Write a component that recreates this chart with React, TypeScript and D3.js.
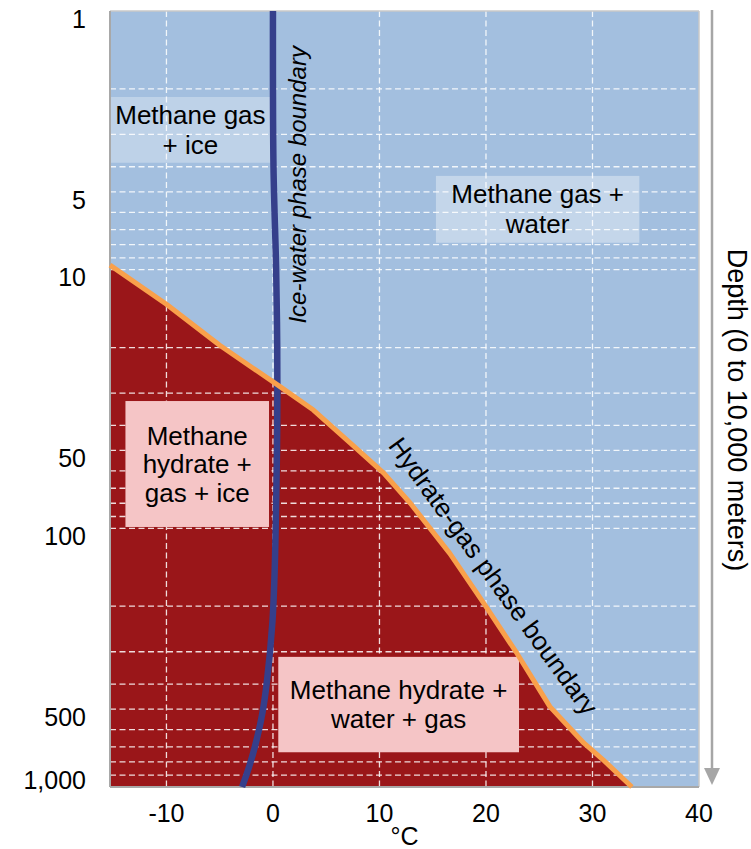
import React from "react";
import * as d3 from "d3";

// ---------- data ----------
const xTickValues = [-10, 0, 10, 20, 30, 40];
const yTickValues = [1, 5, 10, 50, 100, 500, 1000];
const gridDepths = [2, 3, 4, 5, 6, 7, 8, 9, 10, 20, 30, 40, 50, 60, 70, 80, 90, 100, 200, 300, 400, 500, 600, 700, 800, 900];
const gridTemps = [-10, 0, 10, 20, 30];

// Hydrate-gas phase boundary (°C, depth units)
const hydrateTemp = [-15.3, -10, -5, 0.7, 3.8, 7.3, 10.4, 12.9, 16.6, 19.8, 22.9, 26.0, 29.2, 31.0, 33.7];
const hydrateDepth = [9.6, 13.6, 19.6, 28.4, 34.9, 46.9, 61.2, 80, 125, 195, 304, 489, 677, 785, 1000];

// Ice-water phase boundary
const iceTemp = [0.0, 0.05, 0.3, 0.4, 0.4, 0.3, 0.15, -0.05, -0.55, -1.0, -1.7, -2.3, -2.9];
const iceDepth = [1, 4, 10, 20, 40, 80, 150, 230, 385, 520, 700, 850, 1000];

// Region annotations
const regionLines = [
  ["Methane gas", "+ ice"],
  ["Methane gas +", "water"],
  ["Methane", "hydrate +", "gas + ice"],
  ["Methane hydrate +", "water + gas"],
];
const regionTempFrom = [-15.3, 15.3, -13.85, 0.5];
const regionTempTo = [-0.2, 34.4, -0.37, 23.1];
const regionDepthFrom = [2.15, 4.34, 32.2, 314];
const regionDepthTo = [3.86, 7.87, 98.8, 734];
const regionKind = ["gas", "gas", "hydrate", "hydrate"];

// ---------- layout ----------
const W = 751;
const H = 849;
const FONT = "'Liberation Sans', Arial, Helvetica, sans-serif";

export default function App() {
  const x = d3.scaleLinear().domain([-15.3, 40]).range([110, 699]);
  const y = d3.scaleLog().domain([1, 1000]).range([11, 787]);
  const [x0, x1] = x.range();
  const [y0, y1] = y.range();

  const hydratePts: [number, number][] = hydrateTemp.map((t, i) => [t, hydrateDepth[i]]);
  const icePts: [number, number][] = iceTemp.map((t, i) => [t, iceDepth[i]]);

  const areaGen = d3
    .area<[number, number]>()
    .x((d) => x(d[0]))
    .y0(y(1000))
    .y1((d) => y(d[1]));
  const hydrateLine = d3
    .line<[number, number]>()
    .x((d) => x(d[0]))
    .y((d) => y(d[1]));
  const iceLine = d3
    .line<[number, number]>()
    .x((d) => x(d[0]))
    .y((d) => y(d[1]))
    .curve(d3.curveCatmullRom);

  const fmt = d3.format(",");
  const regionFont = 26;

  const boxGeom = (i: number) => {
    const bx0 = x(regionTempFrom[i]);
    const bx1 = x(regionTempTo[i]);
    const by0 = y(regionDepthFrom[i]);
    const by1 = y(regionDepthTo[i]);
    return { bx0, bx1, by0, by1, cx: (bx0 + bx1) / 2, cy: (by0 + by1) / 2 };
  };

  const regionBox = (i: number) => {
    const { bx0, bx1, by0, by1 } = boxGeom(i);
    const gas = regionKind[i] === "gas";
    return (
      <rect
        key={"box" + i}
        x={bx0}
        y={by0}
        width={bx1 - bx0}
        height={by1 - by0}
        fill={gas ? "#ffffff" : "#F5C5C6"}
        fillOpacity={gas ? (i === 0 ? 0.3 : 0.36) : 1}
      />
    );
  };

  const regionText = (i: number) => {
    const { cx, cy } = boxGeom(i);
    const lines = regionLines[i];
    const spacing = lines.length > 2 ? 28.5 : regionKind[i] === "hydrate" ? 28.4 : 30;
    return (
      <text key={"txt" + i} fontFamily={FONT} fontSize={regionFont} fill="#000" textAnchor="middle">
        {lines.map((l, j) => (
          <tspan key={j} x={cx} y={cy + (j - (lines.length - 1) / 2) * spacing + 0.35 * regionFont}>
            {l}
          </tspan>
        ))}
      </text>
    );
  };

  const gasBoxes = [0, 1];
  const hydrateBoxes = [2, 3];

  return (
    <svg
      width={W}
      height={H}
      viewBox={`0 0 ${W} ${H}`}
      style={{ position: "absolute", left: 0, top: 0, background: "#fff" }}
    >
      {/* plot background */}
      <rect x={x0} y={y0} width={x1 - x0} height={y1 - y0} fill="#A3BFDF" />
      {/* hydrate stability field */}
      <path d={areaGen(hydratePts) || ""} fill="#9A1619" />
      {/* translucent gas boxes */}
      {gasBoxes.map(regionBox)}
      {/* grid */}
      <g stroke="#ffffff" strokeOpacity={0.85} strokeWidth={1.3} strokeDasharray="6,3.5">
        {gridDepths.map((g) => (
          <line key={"h" + g} x1={x0} x2={x1} y1={y(g)} y2={y(g)} />
        ))}
        {gridTemps.map((t) => (
          <line key={"v" + t} x1={x(t)} x2={x(t)} y1={y0} y2={y1} />
        ))}
      </g>
      {/* hydrate boxes */}
      {hydrateBoxes.map(regionBox)}
      {/* border */}
      <line x1={x0} x2={x1} y1={y0} y2={y0} stroke="#C8C8C8" strokeWidth={1.5} />
      <line x1={x1} x2={x1} y1={y0} y2={y1} stroke="#C8C8C8" strokeWidth={1.5} />
      <line x1={x0} x2={x0} y1={y0} y2={y1} stroke="#A8A8A8" strokeWidth={2} />
      <line x1={x0} x2={x1} y1={y1} y2={y1} stroke="#A8A8A8" strokeWidth={2} />
      {/* boundaries */}
      <path d={iceLine(icePts) || ""} fill="none" stroke="#353F8B" strokeWidth={6.5} />
      <path d={hydrateLine(hydratePts) || ""} fill="none" stroke="#F9A04B" strokeWidth={5} strokeLinejoin="round" />
      {/* region labels */}
      {[0, 1, 2, 3].map(regionText)}
      {/* line labels */}
      <text
        transform={`translate(${x(2.3)},${y(4.7)}) rotate(-90)`}
        textAnchor="middle"
        dominantBaseline="central"
        fontFamily={FONT}
        fontStyle="italic"
        fontSize={24}
        fill="#000"
      >
        Ice-water phase boundary
      </text>
      <text
        transform={`translate(${x(20.7)},${y(153)}) rotate(54)`}
        textAnchor="middle"
        dominantBaseline="central"
        fontFamily={FONT}
        fontSize={26}
        fill="#000"
      >
        Hydrate-gas phase boundary
      </text>
      {/* x axis labels */}
      <g fontFamily={FONT} fontSize={25} fill="#000" textAnchor="middle">
        {xTickValues.map((t) => (
          <text key={"xt" + t} x={x(t)} y={822}>
            {t}
          </text>
        ))}
        <text x={(x0 + x1) / 2} y={845}>
          °C
        </text>
      </g>
      {/* y axis labels */}
      <g fontFamily={FONT} fontSize={25} fill="#000" textAnchor="end">
        {yTickValues.map((v) => (
          <text key={"yt" + v} x={86} y={Math.min(y(v) + 8, y1 - 7)} dy="0.35em">
            {fmt(v)}
          </text>
        ))}
      </g>
      {/* depth arrow */}
      <line x1={712} x2={712} y1={y0 - 1} y2={y1 - 18} stroke="#A6A6A6" strokeWidth={2.5} />
      <path d={`M704,${y1 - 19} L720,${y1 - 19} L712,${y1 - 2} Z`} fill="#A6A6A6" />
      <text
        transform={`translate(737,${(y0 + y1) / 2 + 11}) rotate(90)`}
        textAnchor="middle"
        dominantBaseline="central"
        fontFamily={FONT}
        fontSize={27}
        fill="#000"
      >
        Depth (0 to 10,000 meters)
      </text>
    </svg>
  );
}
